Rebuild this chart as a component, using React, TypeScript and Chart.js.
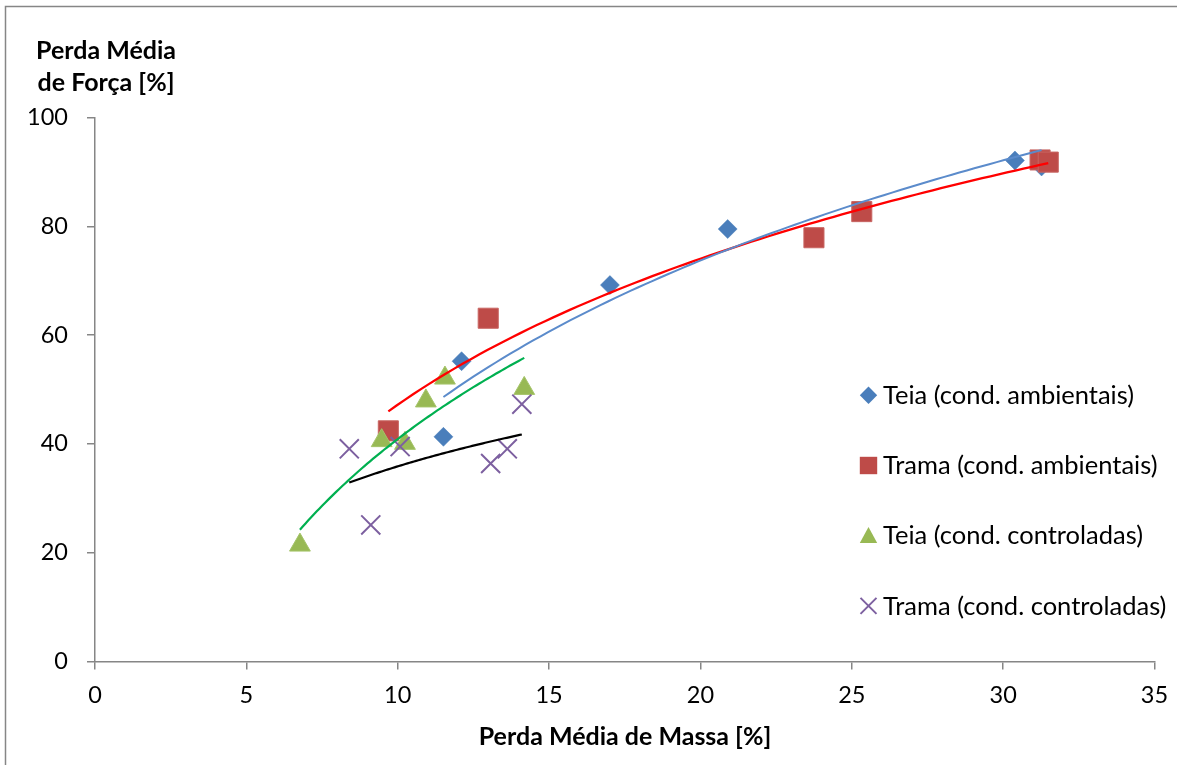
import { useEffect, useRef } from 'react';
import { Chart, registerables } from 'chart.js';

Chart.register(...registerables);

// Perda média de massa [%] (x) e perda média de força [%] (y) por série
const teiaAmbX = [11.51, 12.11, 17.01, 20.9, 30.39, 31.27];
const teiaAmbY = [41.3, 55.2, 69.2, 79.5, 92.1, 91.0];
const tramaAmbX = [9.69, 12.99, 23.75, 25.33, 31.22, 31.49];
const tramaAmbY = [42.4, 63.1, 77.9, 82.7, 92.2, 91.8];
const teiaCtrlX = [6.77, 9.47, 10.24, 10.93, 11.56, 14.18];
const teiaCtrlY = [21.4, 40.6, 40.1, 47.9, 52.1, 50.2];
const tramaCtrlX = [8.4, 9.11, 10.08, 13.07, 13.62, 14.1];
const tramaCtrlY = [39.1, 25.1, 39.5, 36.4, 39.1, 47.3];

const seriesLabels = [
  'Teia (cond. ambientais)',
  'Trama (cond. ambientais)',
  'Teia (cond. controladas)',
  'Trama (cond. controladas)',
];
const xTicks = [0, 5, 10, 15, 20, 25, 30, 35];
const yTicks = [0, 20, 40, 60, 80, 100];

const xTitle = 'Perda Média de Massa [%]';
const yTitleLines = ['Perda Média', 'de Força [%]'];

const FONT = 'Lato, "Open Sans", sans-serif';
const AXIS_GREY = '#868686';

type Pt = { x: number; y: number };

const toPoints = (xs: number[], ys: number[]): Pt[] => xs.map((x, i) => ({ x, y: ys[i] }));

// Logarithmic least-squares trendline (y = a·ln x + b) over the series' x range
function logTrend(xs: number[], ys: number[], steps = 80): Pt[] {
  const n = xs.length;
  const lx = xs.map((v) => Math.log(v));
  const mx = lx.reduce((s, v) => s + v, 0) / n;
  const my = ys.reduce((s, v) => s + v, 0) / n;
  let sxy = 0;
  let sxx = 0;
  for (let i = 0; i < n; i++) {
    sxy += (lx[i] - mx) * (ys[i] - my);
    sxx += (lx[i] - mx) * (lx[i] - mx);
  }
  const a = sxy / sxx;
  const b = my - a * mx;
  const x0 = Math.min(...xs);
  const x1 = Math.max(...xs);
  const out: Pt[] = [];
  for (let k = 0; k <= steps; k++) {
    const x = x0 + ((x1 - x0) * k) / steps;
    out.push({ x, y: a * Math.log(x) + b });
  }
  return out;
}

type MarkerKind = 'diamond' | 'square' | 'triangle' | 'cross';

const legendItems: { kind: MarkerKind; color: string; label: string }[] = [
  { kind: 'diamond', color: '#4a7ebb', label: seriesLabels[0] },
  { kind: 'square', color: '#be4b48', label: seriesLabels[1] },
  { kind: 'triangle', color: '#98b954', label: seriesLabels[2] },
  { kind: 'cross', color: '#7d60a0', label: seriesLabels[3] },
];

function drawMarker(ctx: CanvasRenderingContext2D, kind: MarkerKind, x: number, y: number, half: number, color: string) {
  ctx.save();
  ctx.fillStyle = color;
  ctx.strokeStyle = color;
  ctx.beginPath();
  if (kind === 'diamond') {
    ctx.moveTo(x - half, y);
    ctx.lineTo(x, y - half);
    ctx.lineTo(x + half, y);
    ctx.lineTo(x, y + half);
    ctx.closePath();
    ctx.fill();
  } else if (kind === 'square') {
    ctx.rect(x - half, y - half, half * 2, half * 2);
    ctx.fill();
  } else if (kind === 'triangle') {
    ctx.moveTo(x, y - half);
    ctx.lineTo(x + half, y + half * 0.85);
    ctx.lineTo(x - half, y + half * 0.85);
    ctx.closePath();
    ctx.fill();
  } else {
    ctx.lineWidth = 2;
    ctx.moveTo(x - half, y - half);
    ctx.lineTo(x + half, y + half);
    ctx.moveTo(x + half, y - half);
    ctx.lineTo(x - half, y + half);
    ctx.stroke();
  }
  ctx.restore();
}

const framePlugin = {
  id: 'frame',
  beforeDraw(chart: Chart) {
    const { ctx, width, height } = chart;
    ctx.save();
    ctx.fillStyle = '#ffffff';
    ctx.fillRect(0, 0, width, height);
    ctx.strokeStyle = AXIS_GREY;
    ctx.lineWidth = 1.5;
    ctx.strokeRect(5.5, 6.5, width + 20, height + 20);
    ctx.restore();
  },
};

const titlesPlugin = {
  id: 'axisTitles',
  afterDraw(chart: Chart) {
    const { ctx } = chart;
    ctx.save();
    ctx.fillStyle = '#000000';
    ctx.font = `bold 25px ${FONT}`;
    ctx.textAlign = 'center';
    ctx.textBaseline = 'alphabetic';
    ctx.fillText(yTitleLines[0], 106, 59.3);
    ctx.fillText(yTitleLines[1], 106, 90.7);
    ctx.fillText(xTitle, 625, 745);
    ctx.restore();
  },
};

const legendPlugin = {
  id: 'sideLegend',
  afterDraw(chart: Chart) {
    const { ctx } = chart;
    ctx.save();
    ctx.font = `25.5px ${FONT}`;
    ctx.fillStyle = '#000000';
    ctx.textAlign = 'left';
    ctx.textBaseline = 'middle';
    legendItems.forEach((item, i) => {
      const cy = 395.3 + i * 70.2;
      drawMarker(ctx, item.kind, 868.5, cy, item.kind === 'cross' ? 8 : 8.7, item.color);
      ctx.fillStyle = '#000000';
      ctx.fillText(item.label, 883, cy + 0.5);
    });
    ctx.restore();
  },
};

export default function App() {
  const canvasRef = useRef<HTMLCanvasElement | null>(null);

  useEffect(() => {
    const canvas = canvasRef.current;
    if (!canvas) return;

    const trendStyle = (color: string, width: number) => ({
      type: 'line' as const,
      showLine: true,
      borderColor: color,
      borderWidth: width,
      pointRadius: 0,
      pointHoverRadius: 0,
      fill: false,
      tension: 0,
      order: 0,
    });

    const chart = new Chart(canvas, {
      type: 'scatter',
      data: {
        datasets: [
          {
            label: seriesLabels[0],
            data: toPoints(teiaAmbX, teiaAmbY),
            pointStyle: 'rectRot',
            pointRadius: 9.5,
            backgroundColor: legendItems[0].color,
            borderColor: legendItems[0].color,
            borderWidth: 0.5,
            order: 4,
          },
          {
            label: seriesLabels[1],
            data: toPoints(tramaAmbX, tramaAmbY),
            pointStyle: 'rect',
            pointRadius: 14.2,
            backgroundColor: legendItems[1].color,
            borderColor: '#c86562',
            borderWidth: 1,
            order: 3,
          },
          {
            label: seriesLabels[2],
            data: toPoints(teiaCtrlX, teiaCtrlY),
            pointStyle: 'triangle',
            pointRadius: 12,
            backgroundColor: legendItems[2].color,
            borderColor: '#a5c46a',
            borderWidth: 1,
            order: 2,
          },
          {
            label: seriesLabels[3],
            data: toPoints(tramaCtrlX, tramaCtrlY),
            pointStyle: 'crossRot',
            pointRadius: 13.5,
            backgroundColor: legendItems[3].color,
            borderColor: legendItems[3].color,
            borderWidth: 2,
            order: 1,
          },
          { label: 'tl1', data: logTrend(teiaAmbX, teiaAmbY), ...trendStyle('#5b8bcb', 2) },
          { label: 'tl2', data: logTrend(tramaAmbX, tramaAmbY), ...trendStyle('#ff0000', 2.3) },
          { label: 'tl3', data: logTrend(teiaCtrlX, teiaCtrlY), ...trendStyle('#00b050', 2.2) },
          { label: 'tl4', data: logTrend(tramaCtrlX, tramaCtrlY), ...trendStyle('#000000', 2.2) },
        ] as any,
      },
      options: {
        animation: false,
        responsive: true,
        maintainAspectRatio: false,
        events: [],
        layout: { padding: { left: 0, right: 22.5, top: 117.5, bottom: 0 } },
        plugins: {
          legend: { display: false },
          tooltip: { enabled: false },
          title: { display: false },
        },
        scales: {
          x: {
            type: 'linear',
            min: xTicks[0],
            max: xTicks[xTicks.length - 1],
            afterFit: (scale: any) => {
              scale.height = 103.5;
              scale.paddingLeft = 0;
              scale.paddingRight = 0;
            },
            afterBuildTicks: (scale: any) => {
              scale.ticks = xTicks.map((v) => ({ value: v }));
            },
            ticks: {
              color: '#000000',
              font: { family: FONT, size: 23.5 },
              padding: 12,
              maxRotation: 0,
            },
            grid: {
              display: true,
              drawOnChartArea: false,
              drawTicks: true,
              tickLength: 8,
              color: AXIS_GREY,
              lineWidth: 1.5,
            },
            border: { display: true, color: AXIS_GREY, width: 1.5 },
          },
          y: {
            type: 'linear',
            min: yTicks[0],
            max: yTicks[yTicks.length - 1],
            afterFit: (scale: any) => {
              scale.width = 95;
              scale.paddingTop = 0;
              scale.paddingBottom = 0;
            },
            afterBuildTicks: (scale: any) => {
              scale.ticks = yTicks.map((v) => ({ value: v }));
            },
            ticks: {
              color: '#000000',
              font: { family: FONT, size: 23.5 },
              padding: 19,
            },
            grid: {
              display: true,
              drawOnChartArea: false,
              drawTicks: true,
              tickLength: 8,
              color: AXIS_GREY,
              lineWidth: 1.5,
            },
            border: { display: true, color: AXIS_GREY, width: 1.5 },
          },
        },
      },
      plugins: [framePlugin, titlesPlugin, legendPlugin],
    });

    return () => chart.destroy();
  }, []);

  return (
    <div style={{ position: 'absolute', left: 0, top: 0, width: 1177, height: 765 }}>
      <canvas ref={canvasRef} />
    </div>
  );
}
